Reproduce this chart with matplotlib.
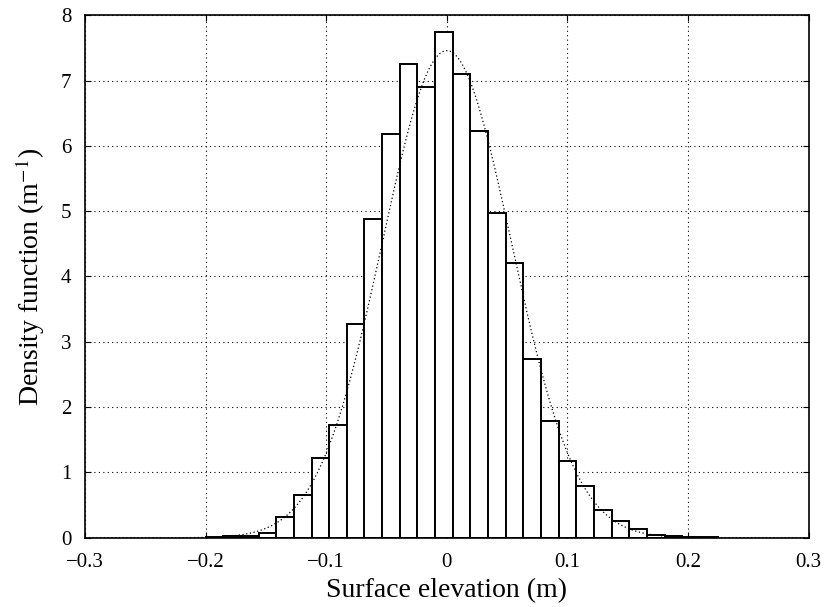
import numpy as np
import matplotlib
matplotlib.use("Agg")
import matplotlib.pyplot as plt

plt.rcParams['font.family'] = ['Liberation Serif', 'DejaVu Serif']
plt.rcParams['mathtext.fontset'] = 'stix'

# histogram bins (left edges, m) and heights (density, 1/m)
bin_left = [-0.2000, -0.1854, -0.1707, -0.1561, -0.1415, -0.1268, -0.1122, -0.0976,
            -0.0829, -0.0683, -0.0537, -0.0390, -0.0244, -0.0097, 0.0049, 0.0195,
            0.0342, 0.0488, 0.0635, 0.0781, 0.0927, 0.1074, 0.1220, 0.1366,
            0.1513, 0.1659, 0.1806, 0.1952, 0.2098]
bin_width = 0.01464
density = [0.01, 0.02, 0.03, 0.08, 0.32, 0.66, 1.22, 1.72,
           3.28, 4.88, 6.18, 7.26, 6.90, 7.74, 7.10, 6.22,
           4.97, 4.20, 2.74, 1.79, 1.17, 0.80, 0.43, 0.25,
           0.13, 0.04, 0.02, 0.01, 0.005]

# fitted gaussian (dotted)
mean = 0.0
sigma = 0.0535

fig = plt.figure(figsize=(8.26, 6.07), dpi=100)
ax = fig.add_axes([0.103, 0.114, 0.876, 0.861])

ax.bar(bin_left, density, width=bin_width, align='edge',
       facecolor='white', edgecolor='black', linewidth=1.4, zorder=2)

xs = np.linspace(-0.3, 0.3, 600)
pdf = np.exp(-0.5 * ((xs - mean) / sigma) ** 2) / (np.sqrt(2 * np.pi) * sigma)
ax.plot(xs, pdf, color='black', linestyle=(0, (1, 2)), linewidth=0.9, zorder=3)

ax.set_xlim(-0.3, 0.3)
ax.set_ylim(0, 8)
ax.set_xticks([-0.3, -0.2, -0.1, 0, 0.1, 0.2, 0.3])
ax.set_xticklabels(['\u22120.3', '\u22120.2', '\u22120.1', '0', '0.1', '0.2', '0.3'])
ax.set_yticks(range(0, 9))

ax.grid(True, linestyle=(0, (1, 3)), color='black', linewidth=0.8, zorder=1)
ax.set_axisbelow(True)
ax.tick_params(direction='in', length=4, labelsize=15, top=True, right=True)
ax.tick_params(axis='x', pad=11)
ax.tick_params(axis='y', pad=10)
for s in ax.spines.values():
    s.set_linewidth(1.2)

ax.set_xlabel('Surface elevation (m)', fontsize=20, labelpad=4)
ax.set_ylabel('Density function (m$^{-1}$)', fontsize=20, labelpad=10)

fig.savefig('out.png', dpi=100)
